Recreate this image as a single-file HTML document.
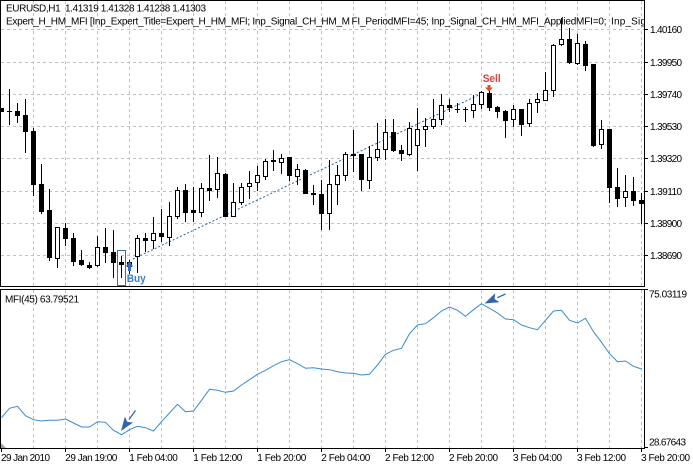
<!DOCTYPE html>
<html><head><meta charset="utf-8"><style>
html,body{margin:0;padding:0;background:#fff;}
svg{display:block;}
text{font-family:"Liberation Sans",sans-serif;font-size:10px;fill:#000;white-space:pre;}
</style></head><body>
<svg width="693" height="468" viewBox="0 0 693 468" xmlns="http://www.w3.org/2000/svg">
<defs>
<clipPath id="mc"><rect x="1" y="1" width="643" height="285"/></clipPath>
<clipPath id="ic"><rect x="1" y="290" width="643" height="158"/></clipPath>
</defs>
<rect width="693" height="468" fill="#fff"/>
<!-- grid main -->
<g stroke="#c0c0c0" stroke-width="1" stroke-dasharray="3,3" fill="none">
<path d="M1 29.5H644M1 62.5H644M1 94.5H644M1 126.5H644M1 158.5H644M1 191.5H644M1 223.5H644M1 255.5H644"/>
<path d="M33.5 1V286M65.5 1V286M97.5 1V286M129.5 1V286M161.5 1V286M193.5 1V286M225.5 1V286M257.5 1V286M289.5 1V286M321.5 1V286M353.5 1V286M385.5 1V286M417.5 1V286M449.5 1V286M481.5 1V286M513.5 1V286M545.5 1V286M577.5 1V286M609.5 1V286M641.5 1V286"/>
<path d="M33.5 290V448M65.5 290V448M97.5 290V448M129.5 290V448M161.5 290V448M193.5 290V448M225.5 290V448M257.5 290V448M289.5 290V448M321.5 290V448M353.5 290V448M385.5 290V448M417.5 290V448M449.5 290V448M481.5 290V448M513.5 290V448M545.5 290V448M577.5 290V448M609.5 290V448M641.5 290V448"/>
</g>
<!-- title -->
<text x="6" y="11.3" textLength="200" lengthAdjust="spacing">EURUSD,H1  1.41319 1.41328 1.41238 1.41303</text>
<g clip-path="url(#mc)">
<text x="6" y="24.7" textLength="344" lengthAdjust="spacing">Expert_H_HM_MFI [Inp_Expert_Title=Expert_H_HM_MFI; Inp_Signal_CH_HM_M</text>
<text x="351.5" y="24.7" textLength="255" lengthAdjust="spacing">FI_PeriodMFI=45; Inp_Signal_CH_HM_MFI_AppliedMFI=0;</text>
<text x="611" y="24.7" textLength="35" lengthAdjust="spacing">Inp_Sig</text>
<!-- trend line -->
<line x1="133" y1="259" x2="484" y2="92.5" stroke="#2b6390" stroke-width="1" stroke-dasharray="2,2"/>
<!-- wicks -->
<g fill="#000">
<rect x="1" y="108" width="1" height="4"/><rect x="9" y="89" width="1" height="36"/><rect x="17" y="103" width="1" height="20"/><rect x="25" y="99" width="1" height="54"/><rect x="33" y="128" width="1" height="68"/><rect x="41" y="164" width="1" height="50"/><rect x="49" y="189" width="1" height="72"/><rect x="57" y="227" width="1" height="41"/><rect x="65" y="223" width="1" height="23"/><rect x="73" y="233" width="1" height="33"/><rect x="81" y="250" width="1" height="16"/><rect x="89" y="262" width="1" height="7"/><rect x="97" y="236" width="1" height="31"/><rect x="105" y="228" width="1" height="35"/><rect x="113" y="230" width="1" height="48"/><rect x="121" y="256" width="1" height="22"/><rect x="129" y="260" width="1" height="14"/><rect x="137" y="235" width="1" height="38"/><rect x="145" y="233" width="1" height="19"/><rect x="153" y="217" width="1" height="32"/><rect x="161" y="209" width="1" height="33"/><rect x="169" y="202" width="1" height="44"/><rect x="177" y="187" width="1" height="32"/><rect x="185" y="184" width="1" height="38"/><rect x="193" y="187" width="1" height="35"/><rect x="201" y="183" width="1" height="34"/><rect x="209" y="155" width="1" height="46"/><rect x="217" y="157" width="1" height="41"/><rect x="225" y="173" width="1" height="44"/><rect x="233" y="183" width="1" height="34"/><rect x="241" y="183" width="1" height="22"/><rect x="249" y="171" width="1" height="28"/><rect x="257" y="166" width="1" height="25"/><rect x="265" y="159" width="1" height="21"/><rect x="273" y="150" width="1" height="21"/><rect x="281" y="154" width="1" height="20"/><rect x="289" y="157" width="1" height="24"/><rect x="297" y="164" width="1" height="21"/><rect x="305" y="169" width="1" height="25"/><rect x="313" y="185" width="1" height="20"/><rect x="321" y="180" width="1" height="50"/><rect x="329" y="160" width="1" height="70"/><rect x="337" y="165" width="1" height="40"/><rect x="345" y="152" width="1" height="29"/><rect x="353" y="130" width="1" height="42"/><rect x="361" y="154" width="1" height="37"/><rect x="369" y="146" width="1" height="43"/><rect x="377" y="123" width="1" height="38"/><rect x="385" y="119" width="1" height="41"/><rect x="393" y="119" width="1" height="33"/><rect x="401" y="145" width="1" height="16"/><rect x="409" y="122" width="1" height="34"/><rect x="417" y="108" width="1" height="63"/><rect x="425" y="118" width="1" height="29"/><rect x="433" y="99" width="1" height="30"/><rect x="441" y="94" width="1" height="31"/><rect x="449" y="99" width="1" height="13"/><rect x="457" y="103" width="1" height="10"/><rect x="465" y="107" width="1" height="15"/><rect x="473" y="95" width="1" height="23"/><rect x="481" y="91" width="1" height="18"/><rect x="489" y="90" width="1" height="21"/><rect x="497" y="106" width="1" height="12"/><rect x="505" y="110" width="1" height="28"/><rect x="513" y="105" width="1" height="22"/><rect x="521" y="109" width="1" height="27"/><rect x="529" y="99" width="1" height="28"/><rect x="537" y="93" width="1" height="20"/><rect x="545" y="72" width="1" height="29"/><rect x="553" y="44" width="1" height="53"/><rect x="561" y="18" width="1" height="28"/><rect x="569" y="28" width="1" height="36"/><rect x="577" y="34" width="1" height="31"/><rect x="585" y="41" width="1" height="30"/><rect x="593" y="64" width="1" height="83"/><rect x="601" y="120" width="1" height="29"/><rect x="609" y="129" width="1" height="74"/><rect x="617" y="168" width="1" height="39"/><rect x="625" y="175" width="1" height="32"/><rect x="633" y="177" width="1" height="29"/><rect x="641" y="193" width="1" height="31"/>
</g>
<!-- dark bodies -->
<g fill="#000">
<rect x="-1" y="108" width="5" height="4"/><rect x="7" y="111" width="5" height="1"/><rect x="15" y="111" width="5" height="5"/><rect x="23" y="115" width="5" height="17"/><rect x="31" y="131" width="5" height="54"/><rect x="39" y="184" width="5" height="28"/><rect x="47" y="210" width="5" height="48"/><rect x="63" y="228" width="5" height="11"/><rect x="71" y="238" width="5" height="24"/><rect x="79" y="260" width="5" height="5"/><rect x="87" y="265" width="5" height="3"/><rect x="103" y="247" width="5" height="6"/><rect x="111" y="252" width="5" height="11"/><rect x="119" y="262" width="5" height="3"/><rect x="143" y="238" width="5" height="3"/><rect x="159" y="233" width="5" height="4"/><rect x="183" y="190" width="5" height="23"/><rect x="191" y="210" width="5" height="3"/><rect x="207" y="188" width="5" height="3"/><rect x="223" y="174" width="5" height="43"/><rect x="271" y="160" width="5" height="2"/><rect x="287" y="157" width="5" height="19"/><rect x="303" y="170" width="5" height="24"/><rect x="311" y="193" width="5" height="2"/><rect x="319" y="194" width="5" height="20"/><rect x="351" y="154" width="5" height="2"/><rect x="359" y="154" width="5" height="26"/><rect x="391" y="132" width="5" height="19"/><rect x="399" y="150" width="5" height="4"/><rect x="447" y="105" width="5" height="3"/><rect x="455" y="109" width="5" height="1"/><rect x="463" y="109" width="5" height="1"/><rect x="487" y="93" width="5" height="15"/><rect x="495" y="107" width="5" height="5"/><rect x="503" y="111" width="5" height="10"/><rect x="519" y="109" width="5" height="16"/><rect x="567" y="39" width="5" height="24"/><rect x="583" y="44" width="5" height="22"/><rect x="591" y="64" width="5" height="82"/><rect x="607" y="129" width="5" height="59"/><rect x="615" y="187" width="5" height="12"/><rect x="631" y="191" width="5" height="10"/><rect x="639" y="200" width="5" height="4"/>
</g>
<!-- hollow bodies -->
<g fill="#fff" stroke="#000" stroke-width="1">
<rect x="55.5" y="227.5" width="4" height="31"/><rect x="95.5" y="247.5" width="4" height="18"/><rect x="127.5" y="262.5" width="4" height="4"/><rect x="135.5" y="238.5" width="4" height="18"/><rect x="151.5" y="233.5" width="4" height="7"/><rect x="167.5" y="216.5" width="4" height="21"/><rect x="175.5" y="190.5" width="4" height="26"/><rect x="199.5" y="188.5" width="4" height="24"/><rect x="215.5" y="173.5" width="4" height="16"/><rect x="231.5" y="202.5" width="4" height="14"/><rect x="239.5" y="187.5" width="4" height="15"/><rect x="247.5" y="183.5" width="4" height="3"/><rect x="255.5" y="175.5" width="4" height="7"/><rect x="263.5" y="161.5" width="4" height="15"/><rect x="279.5" y="158.5" width="4" height="4"/><rect x="295.5" y="169.5" width="4" height="7"/><rect x="327.5" y="184.5" width="4" height="29"/><rect x="335.5" y="175.5" width="4" height="9"/><rect x="343.5" y="154.5" width="4" height="21"/><rect x="367.5" y="157.5" width="4" height="23"/><rect x="375.5" y="149.5" width="4" height="8"/><rect x="383.5" y="132.5" width="4" height="17"/><rect x="407.5" y="128.5" width="4" height="26"/><rect x="415.5" y="129.5" width="4" height="16"/><rect x="423.5" y="126.5" width="4" height="3"/><rect x="431.5" y="119.5" width="4" height="7"/><rect x="439.5" y="105.5" width="4" height="14"/><rect x="471.5" y="104.5" width="4" height="6"/><rect x="479.5" y="92.5" width="4" height="12"/><rect x="511.5" y="109.5" width="4" height="10"/><rect x="527.5" y="103.5" width="4" height="20"/><rect x="535.5" y="99.5" width="4" height="3"/><rect x="543.5" y="90.5" width="4" height="10"/><rect x="551.5" y="45.5" width="4" height="45"/><rect x="559.5" y="39.5" width="4" height="5"/><rect x="575.5" y="43.5" width="4" height="20"/><rect x="599.5" y="129.5" width="4" height="15"/><rect x="623.5" y="191.5" width="4" height="6"/>
</g>
<!-- buy / sell markers -->
<rect x="117.5" y="250.5" width="8" height="35" fill="none" stroke="#3f6f9f" stroke-width="1"/>
<polygon points="129.5,261.5 125.8,266.5 133.2,266.5" fill="#2d6cb5"/>
<rect x="128" y="266" width="3" height="5" fill="#2d6cb5"/>
<text x="126.7" y="282" textLength="19" lengthAdjust="spacingAndGlyphs" style="font-size:11px;font-weight:bold;fill:#3a7fc4">Buy</text>
<text x="482.7" y="82" textLength="18" lengthAdjust="spacingAndGlyphs" style="font-size:11px;font-weight:bold;fill:#d94040">Sell</text>
<rect x="487.5" y="85" width="3" height="3" fill="#e0502a"/>
<polygon points="485,87.5 493,87.5 489,91.5" fill="#e0502a"/>
</g>
<!-- MFI line -->
<g clip-path="url(#ic)">
<polyline fill="none" stroke="#3a8ad0" stroke-width="1" points="1.5,417.7 9.5,408.3 17.5,406.3 25.5,415.7 33.5,419.7 41.5,421 49.5,420.3 57.5,420.3 65.5,419 73.5,423 81.5,427 89.5,427 97.5,421.7 105.5,422.3 113.5,430.3 121.5,434.7 129.5,429.7 137.5,426.3 145.5,427.7 153.5,431 161.5,421.7 169.5,413 177.5,404.3 185.5,411.7 193.5,411 201.5,400.3 209.5,389.3 217.5,390.3 225.5,392.3 233.5,391 241.5,385 249.5,379.7 257.5,374.3 265.5,370.3 273.5,365.7 281.5,361.7 289.5,359.7 297.5,363.7 305.5,368.3 313.5,367.7 321.5,369 329.5,369.7 337.5,371.7 345.5,373 353.5,373.3 361.5,375 369.5,374.3 377.5,365 385.5,354.3 393.5,350.3 401.5,348.3 409.5,333.7 417.5,325 425.5,323.7 433.5,317.7 441.5,311 449.5,307 457.5,310.3 465.5,316.3 473.5,309.7 481.5,303.7 489.5,308.3 497.5,313 505.5,319 513.5,319.7 521.5,325 529.5,327.7 537.5,329.7 545.5,320.3 553.5,311 561.5,310.3 569.5,320.3 577.5,323 585.5,318.3 593.5,331.7 601.5,342.3 609.5,353.7 617.5,361.7 625.5,361 633.5,366.3 641.5,369"/>
<line x1="129" y1="419.5" x2="135.5" y2="410.5" stroke="#3465a8" stroke-width="1.3"/>
<polygon points="121,431 133.1,422.4 127.3,422 124.9,416.6" fill="#3465a8"/>
<line x1="497.3" y1="297.7" x2="505.5" y2="294" stroke="#3465a8" stroke-width="1.3"/>
<polygon points="484.5,303.5 499.4,302.3 494.6,299 495.2,293.2" fill="#3465a8"/>
<polygon points="1,443 1,448 6,448" fill="#a0a0a0"/>
</g>
<text x="5" y="302.3" textLength="74" lengthAdjust="spacing">MFI(45) 63.79521</text>
<!-- borders -->
<g stroke="#000" stroke-width="1" fill="none">
<path d="M0.5 0.5H644.5V286.5H0.5Z"/>
<path d="M0.5 289.5H644.5V448.5H0.5Z"/>
<path d="M644 29.5H648M644 62.5H648M644 94.5H648M644 126.5H648M644 158.5H648M644 191.5H648M644 223.5H648M644 255.5H648M644 289.5H648M644 447.5H648"/>
<path d="M1.5 448V452M65.5 448V452M129.5 448V452M193.5 448V452M257.5 448V452M321.5 448V452M385.5 448V452M449.5 448V452M513.5 448V452M577.5 448V452M641.5 448V452"/>
</g>
<!-- price labels -->
<g>
<text x="650" y="33" textLength="32" lengthAdjust="spacing">1.40160</text>
<text x="650" y="66" textLength="32" lengthAdjust="spacing">1.39950</text>
<text x="650" y="98" textLength="32" lengthAdjust="spacing">1.39740</text>
<text x="650" y="130" textLength="32" lengthAdjust="spacing">1.39530</text>
<text x="650" y="162" textLength="32" lengthAdjust="spacing">1.39320</text>
<text x="650" y="195" textLength="32" lengthAdjust="spacing">1.39110</text>
<text x="650" y="227" textLength="32" lengthAdjust="spacing">1.38900</text>
<text x="650" y="259" textLength="32" lengthAdjust="spacing">1.38690</text>
<text x="649" y="297.7" textLength="38" lengthAdjust="spacing">75.03119</text>
<text x="649" y="445.7" textLength="37" lengthAdjust="spacing">28.67643</text>
</g>
<!-- time labels -->
<g>
<text x="1" y="461" textLength="49" lengthAdjust="spacing">29 Jan 2010</text>
<text x="65.3" y="461" textLength="52" lengthAdjust="spacing">29 Jan 19:00</text>
<text x="129.3" y="461" textLength="48.5" lengthAdjust="spacing">1 Feb 04:00</text>
<text x="193.3" y="461" textLength="49" lengthAdjust="spacing">1 Feb 12:00</text>
<text x="257.3" y="461" textLength="49" lengthAdjust="spacing">1 Feb 20:00</text>
<text x="321.3" y="461" textLength="49" lengthAdjust="spacing">2 Feb 04:00</text>
<text x="385" y="461" textLength="49" lengthAdjust="spacing">2 Feb 12:00</text>
<text x="449" y="461" textLength="49" lengthAdjust="spacing">2 Feb 20:00</text>
<text x="513" y="461" textLength="49" lengthAdjust="spacing">3 Feb 04:00</text>
<text x="577" y="461" textLength="49" lengthAdjust="spacing">3 Feb 12:00</text>
<text x="641" y="461" textLength="49" lengthAdjust="spacing">3 Feb 20:00</text>
</g>
</svg>
</body></html>
